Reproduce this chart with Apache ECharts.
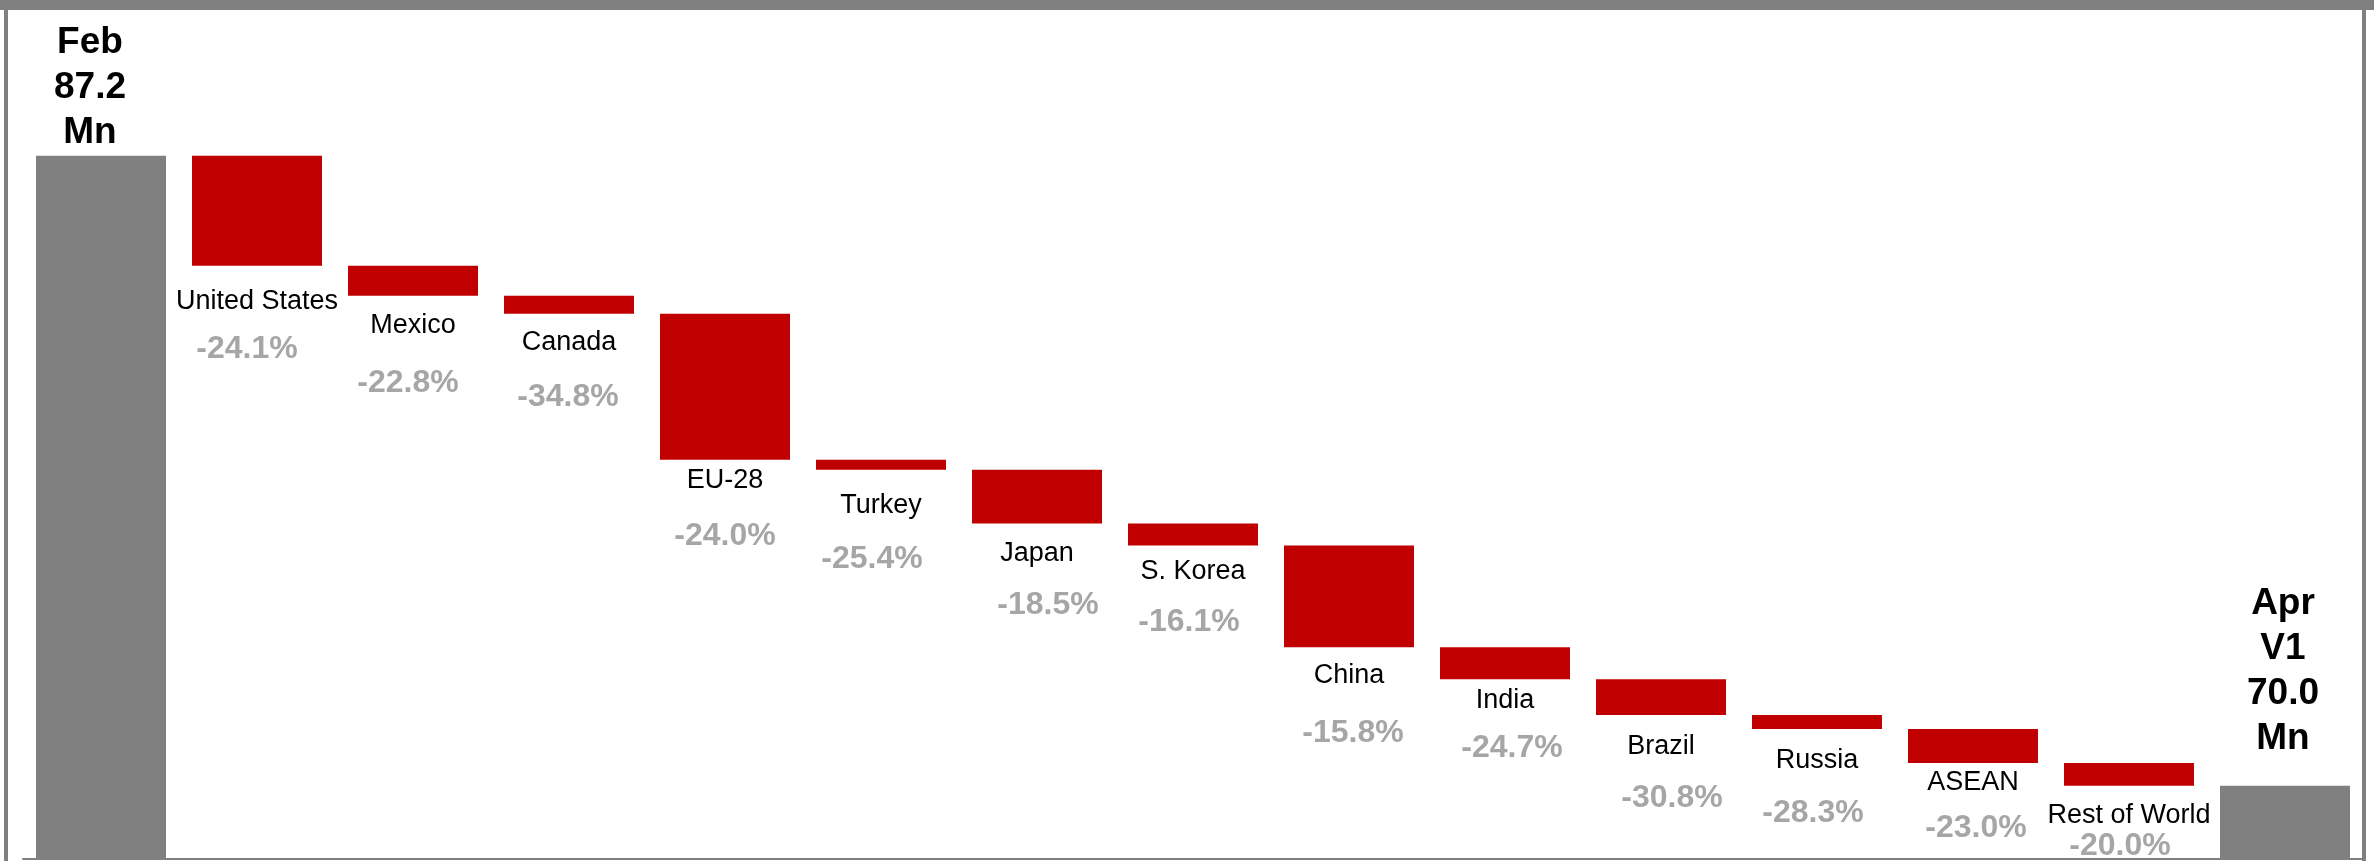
<!DOCTYPE html>
<html>
<head>
<meta charset="utf-8">
<style>
  html, body { margin: 0; padding: 0; background: #fff; }
  #chart { width: 2374px; height: 861px; }
</style>
<script src="https://cdn.jsdelivr.net/npm/echarts@6/dist/echarts.min.js"></script>
</head>
<body>
<div id="chart"></div>
<script>
// waterfall: Feb total -> regional drops -> Apr V1 total (Mn units)
var startLabel = 'Feb'
var endLabel = 'Apr\nV1'
var startTotal = 87.2
var endTotal = 70.0
var regions = ['United States', 'Mexico', 'Canada', 'EU-28', 'Turkey', 'Japan', 'S. Korea',
  'China', 'India', 'Brazil', 'Russia', 'ASEAN', 'Rest of World']
var drops = [3.00, 0.82, 0.49, 3.99, 0.27, 1.47, 0.60, 2.78, 0.87, 0.98, 0.38, 0.93, 0.62]
var pctChange = [-24.1, -22.8, -34.8, -24.0, -25.4, -18.5, -16.1, -15.8, -24.7, -30.8, -28.3, -23.0, -20.0]

// the labels in the original were placed by hand, so nudge each one (px below the red block)
var nameGap = [42, 36, 35, 27, 42, 36, 32, 34, 27, 37, 38, 26, 36]
var pctGap = [92, 96, 93, 85, 98, 91, 86, 95, 78, 92, 93, 74, 69]
var pctShift = [-10, -5, -1, 0, -9, 11, -4, 4, 7, 11, -4, 3, -9]

var FONT = 'Liberation Sans, Arial, sans-serif'
var GREY = '#808080'
var RED = '#C00000'

var categories = [startLabel].concat(regions, [endLabel])

// transparent base under each drop, so the red block floats at the right height
var baseData = [0]
var dropData = ['-']
var level = startTotal
drops.forEach(function (d, i) {
  level -= d
  baseData.push({
    value: level,
    label: {
      show: true,
      position: 'insideTop',
      distance: pctGap[i] - 25,
      offset: [pctShift[i], 0],
      formatter: pctChange[i].toFixed(1) + '%'
    }
  })
  dropData.push({
    value: d,
    label: { distance: nameGap[i] - 21 }
  })
})
baseData.push(0)
dropData.push('-')

var totalData = categories.map(function () { return '-' })
totalData[0] = { value: startTotal, label: { offset: [-11, 0], distance: 1 } }
totalData[categories.length - 1] = { value: endTotal, label: { offset: [-2, 0], distance: 24 } }

var chart = echarts.init(document.getElementById('chart'))
chart.setOption({
  animation: false,
  backgroundColor: '#fff',
  grid: { left: 23, right: 11, top: 2, bottom: 2 },
  xAxis: {
    type: 'category',
    data: categories,
    axisLine: { show: true, lineStyle: { color: GREY, width: 2 } },
    axisTick: { show: false },
    axisLabel: { show: false }
  },
  yAxis: {
    type: 'value',
    min: 68,
    max: 91.4,
    show: false,
    splitLine: { show: false }
  },
  graphic: [
    { type: 'rect', shape: { x: 0, y: 0, width: 2374, height: 10 }, style: { fill: GREY } },
    { type: 'rect', shape: { x: 4, y: 0, width: 4, height: 861 }, style: { fill: GREY } },
    { type: 'rect', shape: { x: 2362, y: 0, width: 4, height: 861 }, style: { fill: GREY } }
  ],
  series: [
    {
      name: 'base',
      type: 'bar',
      stack: 'wf',
      barWidth: 130,
      itemStyle: { color: 'transparent' },
      emphasis: { disabled: true },
      label: {
        show: false,
        fontFamily: FONT,
        fontSize: 32,
        fontWeight: 'bold',
        color: '#A6A6A6',
        lineHeight: 32
      },
      data: baseData
    },
    {
      name: 'drop',
      type: 'bar',
      stack: 'wf',
      barWidth: 130,
      itemStyle: { color: RED },
      data: dropData,
      label: {
        show: true,
        position: 'bottom',
        fontFamily: FONT,
        fontSize: 27,
        color: '#000',
        lineHeight: 30,
        formatter: function (p) { return regions[p.dataIndex - 1] }
      }
    },
    {
      name: 'total',
      type: 'bar',
      stack: 'wf',
      barWidth: 130,
      itemStyle: { color: GREY },
      data: totalData,
      label: {
        show: true,
        position: 'top',
        fontFamily: FONT,
        fontSize: 37,
        fontWeight: 'bold',
        color: '#000',
        lineHeight: 45,
        formatter: function (p) { return p.name + '\n' + p.value.toFixed(1) + '\nMn' }
      }
    }
  ]
})
</script>
</body>
</html>
